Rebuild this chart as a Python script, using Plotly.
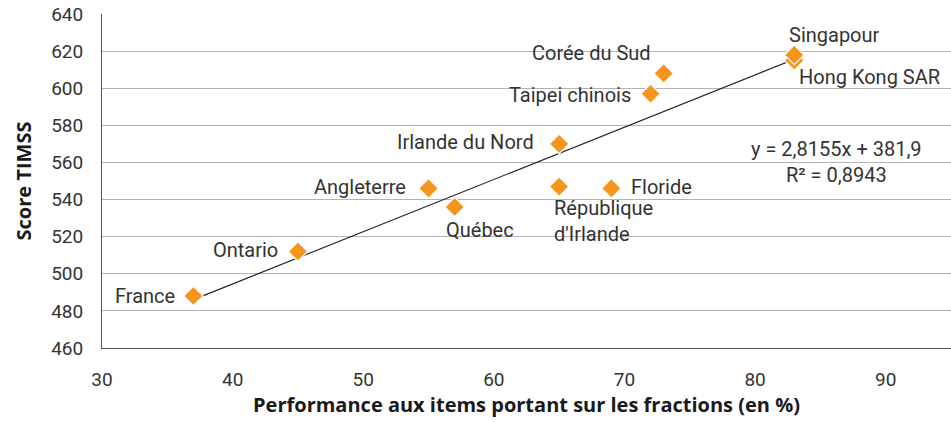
import plotly.graph_objects as go

countries = ["France", "Ontario", "Angleterre", "Québec", "Irlande du Nord",
             "République d'Irlande", "Floride", "Taipei chinois", "Corée du Sud",
             "Hong Kong SAR", "Singapour"]
fractions = [37, 45, 55, 57, 65, 65, 69, 72, 73, 83, 83]
scores = [488, 512, 546, 536, 570, 547, 546, 597, 608, 615, 618]

slope = 2.8155
intercept = 381.9
trend_x = [37, 83]
trend_y = [slope * v + intercept for v in trend_x]

# label placement: (text, xanchor, xshift, yshift)
label_pos = {
    "France": ("France", "right", -16, 0),
    "Ontario": ("Ontario", "right", -18, 2),
    "Angleterre": ("Angleterre", "right", -21, 1),
    "Québec": ("Québec", "center", 25, -23),
    "Irlande du Nord": ("Irlande du Nord", "right", -23, 2),
    "République d'Irlande": ("République<br>d'Irlande", "left", -7, -34),
    "Floride": ("Floride", "left", 18, 1),
    "Taipei chinois": ("Taipei chinois", "right", -18, -1),
    "Corée du Sud": ("Corée du Sud", "right", -11, 20),
    "Hong Kong SAR": ("Hong Kong SAR", "left", 3, -17),
    "Singapour": ("Singapour", "left", -7, 20),
}

fig = go.Figure()
fig.add_trace(go.Scatter(x=trend_x, y=trend_y, mode="lines",
                         line=dict(color="#1a1a1a", width=1.1), hoverinfo="skip",
                         showlegend=False))
fig.add_trace(go.Scatter(x=fractions, y=scores, mode="markers",
                         marker=dict(symbol="diamond", size=15, color="#F7941D",
                                     line=dict(color="white", width=1.2)),
                         showlegend=False))

font_lab = dict(family="Roboto, DejaVu Sans, sans-serif", size=20, color="#333333")
for c, xv, yv in zip(countries, fractions, scores):
    txt, xa, xs, ys = label_pos[c]
    fig.add_annotation(x=xv, y=yv, text=txt, showarrow=False, xanchor=xa, yanchor="middle",
                       xshift=xs, yshift=ys, font=font_lab, align="left")

fig.add_annotation(x=86.25, y=567.3, text="y = 2,8155x + 381,9", showarrow=False,
                   xanchor="center", yanchor="middle", font=font_lab)
fig.add_annotation(x=86.25, y=553.3, text="R² = 0,8943", showarrow=False,
                   xanchor="center", yanchor="middle", font=font_lab)

title_font = dict(family="Open Sans, Roboto, sans-serif", size=20, color="#1a1a1a")
fig.update_layout(
    width=951, height=422,
    margin=dict(l=102, r=0, t=14, b=74),
    paper_bgcolor="white", plot_bgcolor="white",
    font=dict(family="Roboto, DejaVu Sans, sans-serif", color="#333333"),
    xaxis=dict(range=[30, 95], tickvals=[30, 40, 50, 60, 70, 80, 90],
               showgrid=False, zeroline=False, showline=True, linecolor="#555555",
               linewidth=1, ticks="", ticklabelstandoff=14, ticklabeloverflow="allow",
               tickfont=dict(size=19, color="#333333"),
               title=dict(text="<b>Performance aux items portant sur les fractions (en %)</b>",
                          font=title_font, standoff=8)),
    yaxis=dict(range=[460, 640], dtick=20, showgrid=True, gridcolor="#b3b3b3",
               gridwidth=1, zeroline=False, showline=True, linecolor="#555555",
               linewidth=1, ticks="", ticklabelstandoff=14, ticklabeloverflow="allow",
               tickfont=dict(size=19, color="#333333"),
               title=dict(text="<b>Score TIMSS</b>", font=title_font, standoff=14)),
)

fig.write_html("out.html", config={"displayModeBar": False},
               post_script="document.body.style.margin='0';")
